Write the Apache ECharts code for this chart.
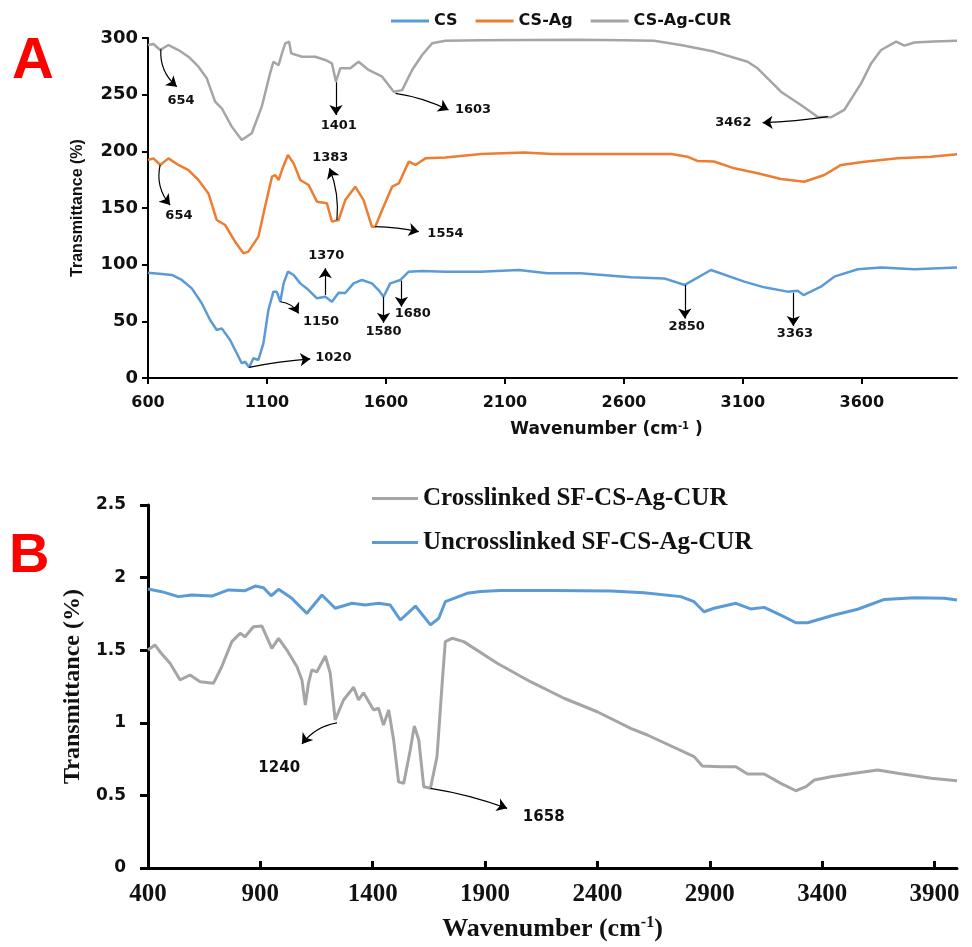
<!DOCTYPE html>
<html><head><meta charset="utf-8">
<script src="https://cdn.jsdelivr.net/npm/echarts@6/dist/echarts.min.js"></script>
<style>html,body{margin:0;padding:0;background:#fff}#c{width:972px;height:947px}</style>
</head><body><div id="c"></div>
<script>
// ---------- Panel A data (wavenumber, transmittance) ----------
const csWave = [600,658,700,742,784,826,861,889,910,945,973,994,1008,1025,1043,1064,1085,1106,1127,1141,1156,1170,1188,1212,1240,1275,1310,1345,1373,1401,1429,1464,1499,1541,1569,1590,1618,1661,1696,1752,1850,1997,2159,2278,2418,2629,2769,2856,2966,3106,3190,3288,3330,3355,3428,3484,3583,3681,3821,4000];
const csT    = [92.9,91.8,90.9,86.5,79.1,65.9,51.2,42.4,43.8,33.5,21.8,13,14.4,9.4,17.4,15.9,30.6,60,76.2,76.2,67.3,83.5,93.8,90.9,83.5,77.6,70.3,71.7,67.3,75.3,75,83.5,86.5,83.5,77.6,71.7,83.5,86.5,93.8,94.4,93.8,93.8,95.3,92.4,92.4,88.8,87.9,82.1,95.3,85,80,76.2,77,73.2,80.6,89.4,95.9,97.6,95.9,97.6];

const csAgWave = [600,623,651,686,728,770,812,854,889,924,966,1001,1022,1064,1092,1121,1135,1149,1163,1188,1212,1240,1275,1310,1352,1373,1401,1429,1471,1506,1541,1555,1584,1626,1654,1696,1724,1766,1850,2000,2180,2300,2500,2800,2867,2909,2979,3064,3162,3260,3358,3442,3513,3611,3751,3891,4000];
const csAgT    = [192.4,193.8,188,193.8,188,183.5,174.7,162.9,139.4,135,120.3,110,111.5,124.7,151.2,177.6,179,174.7,183.5,196.8,189.4,174.7,170.3,155.6,154.1,138,139.4,157,168.8,157,133.5,133.5,148.2,168.8,171.7,190.9,188,193.8,194.5,197.6,199,197.6,197.6,197.6,195.3,191.5,191,185,180.6,175.6,173.2,179.1,188,190.9,193.8,195.3,197.4];

const csAgCurWave = [600,623,651,686,728,770,812,847,882,910,952,994,1036,1078,1113,1127,1149,1163,1177,1193,1202,1247,1303,1345,1373,1390,1408,1450,1485,1527,1584,1633,1668,1710,1752,1794,1850,2000,2200,2400,2600,2727,2839,2978,3120,3162,3260,3344,3414,3470,3526,3597,3639,3681,3744,3779,3821,3900,4000];
const csAgCurT    = [293.8,294.7,289.4,293.8,289.4,283.5,274.7,264.4,243.8,238,221.8,210,215.9,239.4,268.8,279,276,286.4,295.3,296.8,286.4,283.5,283.5,280.6,277.6,261.5,273.3,273.3,279,271.8,265.9,252.6,254,271.8,285,295.3,297.6,298,298.3,298.5,298,297.5,293.8,288,279,273.3,252.6,240.9,230.6,230,236.5,260,277.6,289.4,296.8,293.3,296,297,297.6];

// ---------- Panel B data ----------
const crossWave = [400,431,453,498,543,587,632,691,728,773,810,832,869,907,951,981,1018,1063,1085,1100,1114,1129,1151,1189,1211,1233,1270,1315,1337,1359,1404,1426,1448,1471,1493,1515,1538,1567,1585,1605,1627,1657,1686,1709,1723,1753,1805,1954,2102,2251,2399,2548,2622,2830,2867,2949,3016,3068,3142,3216,3283,3328,3365,3439,3543,3647,3736,3885,4000];
const crossT    = [1.501,1.536,1.49,1.41,1.295,1.329,1.283,1.272,1.386,1.559,1.616,1.593,1.662,1.666,1.513,1.582,1.501,1.386,1.295,1.123,1.272,1.364,1.35,1.46,1.341,1.019,1.157,1.245,1.157,1.207,1.088,1.10,0.985,1.088,0.882,0.594,0.583,0.813,0.978,0.882,0.56,0.549,0.767,1.272,1.559,1.582,1.559,1.41,1.283,1.169,1.076,0.962,0.916,0.767,0.702,0.698,0.698,0.647,0.647,0.583,0.532,0.56,0.606,0.629,0.652,0.675,0.652,0.618,0.601];

const uncrossWave = [400,461,535,595,684,758,832,877,914,948,981,1040,1107,1174,1233,1308,1367,1426,1478,1523,1590,1657,1694,1723,1820,1880,1969,2200,2460,2607,2771,2830,2874,2919,3016,3082,3142,3216,3283,3335,3454,3558,3677,3810,3944,4000];
const uncrossT    = [1.921,1.903,1.869,1.880,1.873,1.915,1.91,1.942,1.93,1.875,1.919,1.857,1.754,1.880,1.789,1.823,1.811,1.823,1.811,1.708,1.804,1.674,1.720,1.834,1.892,1.905,1.912,1.912,1.908,1.896,1.869,1.834,1.765,1.789,1.823,1.784,1.795,1.742,1.689,1.689,1.742,1.782,1.85,1.862,1.858,1.846];

// ---------- Tick values ----------
const ticksA = [600,1100,1600,2100,2600,3100,3600];
const ticksB = [400,900,1400,1900,2400,2900,3400,3900];

// ---------- Peak annotations (data coordinates) ----------
const annCUR = [
  {text:'654',  from:[654,290],   to:[721,257],   at:[739,245],   curve:-0.25},
  {text:'1401', from:[1390,261],  to:[1390,232],  at:[1402,223],  curve:0},
  {text:'1603', from:[1640,251.2],to:[1863,236.5],at:[1966,236.5],curve:0.08},
  {text:'3462', from:[3457,230.6],to:[3183,225.3],at:[3060,225.4],curve:0.03}
];
const annAg = [
  {text:'654',  from:[651,188],   to:[693,152.6], at:[730,143.5], curve:-0.25},
  {text:'1383', from:[1394,139.4],to:[1363,185],  at:[1366,194.4],curve:-0.12},
  {text:'1554', from:[1555,133.5],to:[1738,129.1],at:[1850,127.5],curve:0.05}
];
const annCS = [
  {text:'1370', from:[1345,73.2], to:[1345,96.8], at:[1349,108],  curve:0},
  {text:'1150', from:[1156,67.3], to:[1233,57],   at:[1327,49.4], curve:0.25},
  {text:'1020', from:[1025,9.4],  to:[1282,16.8], at:[1379,17.6], curve:0.03},
  {text:'1580', from:[1590,71.7], to:[1590,48.8], at:[1590,41.2], curve:0},
  {text:'1680', from:[1665,85.9], to:[1665,62.9], at:[1713,57],   curve:0},
  {text:'2850', from:[2856,82.1], to:[2856,52.6], at:[2864,45],   curve:0},
  {text:'3363', from:[3312,75.3], to:[3312,45.9], at:[3319,38.8], curve:0}
];
const annCross = [
  {text:'1240', from:[1241,1.0],  to:[1085,0.854],at:[984,0.687], curve:-0.2},
  {text:'1658', from:[1657,0.549],to:[1998,0.411],at:[2161,0.353],curve:0.05}
];

function zip(w,t){ return w.map((x,i)=>[x,t[i]]); }
function labels(list, font){
  return {
    markPoint:{
      silent:true, animation:false, symbol:'rect', symbolSize:1,
      itemStyle:{color:'rgba(0,0,0,0)'},
      label:{show:true, position:'inside', formatter:'{b}', color:'#111', fontWeight:'bold', fontFamily:font.family, fontSize:font.size},
      data:list.map(a=>({name:a.text, coord:a.at}))
    }
  };
}
function arrows(list, xi){
  return {
    type:'lines', coordinateSystem:'cartesian2d', xAxisIndex:xi, yAxisIndex:xi,
    silent:true, animation:false, z:3,
    symbol:['none','arrow'], symbolSize:10,
    lineStyle:{color:'#000', width:1.2, opacity:1},
    itemStyle:{color:'#000'},
    data:list.map(a=>({coords:[a.from, a.to], lineStyle:{curveness:a.curve}}))
  };
}

const BLUE='#5B9BD5', ORANGE='#ED7D31', GRAY='#A5A5A5';
const fA = {family:'DejaVu Sans', size:13};
const fB = {family:'DejaVu Sans', size:15};

function lineSeries(name, color, data, xi, width, ann, font){
  return Object.assign({
    type:'line', name, data, xAxisIndex:xi, yAxisIndex:xi, symbol:'none', showSymbol:false,
    lineStyle:{color, width}, itemStyle:{color}, animation:false, z:2
  }, ann ? labels(ann, font) : {});
}

const chart = echarts.init(document.getElementById('c'), null, {renderer:'canvas'});
const axisCommon = (w)=>({
  axisLine:{show:true, onZero:false, lineStyle:{color:'#000', width:w}},
  splitLine:{show:false}
});
const plain = v => String(v);

chart.setOption({
  backgroundColor:'#fff',
  animation:false,
  grid:[
    {left:148, right:15, top:38, height:340},
    {left:148, right:15, top:505, height:363}
  ],
  legend:[
    {left:386, top:8, itemWidth:38, itemHeight:3, itemGap:18, icon:'rect',
     textStyle:{fontFamily:'DejaVu Sans', fontWeight:'bold', fontSize:16, color:'#111'},
     data:['CS','CS-Ag','CS-Ag-CUR']},
    {left:367, top:481, orient:'vertical', itemWidth:46, itemHeight:3, itemGap:19, icon:'rect',
     textStyle:{fontFamily:'Liberation Serif', fontWeight:'bold', fontSize:25, color:'#111'},
     data:['Crosslinked SF-CS-Ag-CUR','Uncrosslinked SF-CS-Ag-CUR']}
  ],
  xAxis:[
    Object.assign(axisCommon(2),{
      type:'value', gridIndex:0, min:600, max:4000, interval:100,
      axisTick:{show:true, inside:false, length:6, customValues:ticksA, lineStyle:{color:'#000', width:2}},
      axisLabel:{customValues:ticksA, formatter:plain, margin:17, fontFamily:'DejaVu Sans', fontWeight:'bold', fontSize:16, color:'#111'},
      name:'{a|Wavenumber (cm}{s|-1}{a| )}', nameLocation:'middle', nameGap:43,
      nameTextStyle:{padding:[0,0,0,108], rich:{
        a:{fontFamily:'DejaVu Sans', fontWeight:'bold', fontSize:17, color:'#111'},
        s:{fontFamily:'DejaVu Sans', fontWeight:'bold', fontSize:10, color:'#111', verticalAlign:'top', padding:[0,0,8,0]}
      }}
    }),
    Object.assign(axisCommon(3),{
      type:'value', gridIndex:1, min:400, max:4000, interval:100,
      axisTick:{show:true, inside:true, length:7, customValues:ticksB, lineStyle:{color:'#000', width:3}},
      axisLabel:{customValues:ticksB, formatter:plain, margin:14, fontFamily:'Liberation Serif', fontWeight:'bold', fontSize:25, color:'#111'},
      name:'{a|Wavenumber (cm}{s|-1}{a|)}', nameLocation:'middle', nameGap:47,
      nameTextStyle:{rich:{
        a:{fontFamily:'Liberation Serif', fontWeight:'bold', fontSize:26, color:'#111'},
        s:{fontFamily:'Liberation Serif', fontWeight:'bold', fontSize:16, color:'#111', verticalAlign:'top', padding:[0,0,12,0]}
      }}
    })
  ],
  yAxis:[
    Object.assign(axisCommon(2),{
      type:'value', gridIndex:0, min:0, max:300, interval:50,
      axisTick:{show:true, length:6, lineStyle:{color:'#000', width:2}},
      axisLabel:{margin:10, fontFamily:'DejaVu Sans', fontWeight:'bold', fontSize:18, color:'#111'},
      name:'Transmittance (%)', nameLocation:'middle', nameGap:62,
      nameTextStyle:{fontFamily:'Liberation Sans', fontWeight:'bold', fontSize:16, color:'#111'}
    }),
    Object.assign(axisCommon(3),{
      type:'value', gridIndex:1, min:0, max:2.5, interval:0.5,
      axisTick:{show:true, length:8, lineStyle:{color:'#000', width:3}},
      axisLabel:{margin:22, fontFamily:'DejaVu Sans', fontWeight:'bold', fontSize:17, color:'#111'},
      name:'Transmittance (%)', nameLocation:'middle', nameGap:55,
      nameTextStyle:{fontFamily:'Liberation Serif', fontWeight:'bold', fontSize:24, color:'#111'}
    })
  ],
  graphic:[
    {type:'text', left:12, top:33, style:{text:'A', fill:'#ff0000', font:'bold 58px "Liberation Sans"'}},
    {type:'text', left:9, top:529, style:{text:'B', fill:'#ff0000', font:'bold 56px "Liberation Sans"'}}
  ],
  series:[
    lineSeries('CS', BLUE, zip(csWave, csT), 0, 2.5, annCS, fA),
    lineSeries('CS-Ag', ORANGE, zip(csAgWave, csAgT), 0, 2.5, annAg, fA),
    lineSeries('CS-Ag-CUR', GRAY, zip(csAgCurWave, csAgCurT), 0, 2.5, annCUR, fA),
    lineSeries('Crosslinked SF-CS-Ag-CUR', GRAY, zip(crossWave, crossT), 1, 3, annCross, fB),
    lineSeries('Uncrosslinked SF-CS-Ag-CUR', BLUE, zip(uncrossWave, uncrossT), 1, 3, null, fB),
    arrows(annCUR.concat(annAg, annCS), 0),
    arrows(annCross, 1)
  ]
});
</script></body></html>
